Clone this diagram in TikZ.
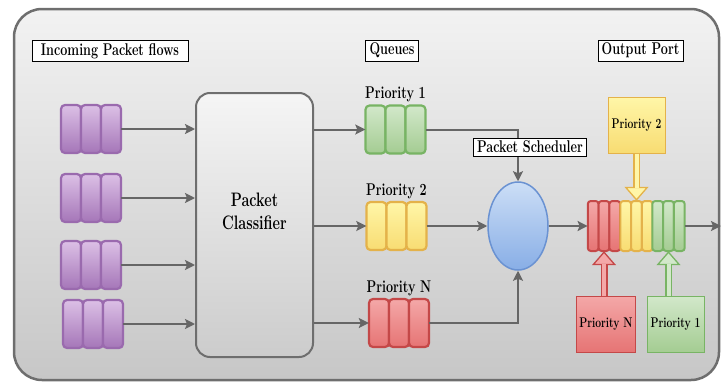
\documentclass[tikz,border=0pt]{standalone}
\usepackage{tikz}
\usetikzlibrary{positioning, shapes.geometric, arrows.meta, calc}

\definecolor{linegray}{HTML}{666666}
\definecolor{framegray}{HTML}{6E6E6E}
\definecolor{purpletop}{HTML}{DCC0E6}
\definecolor{purplebot}{HTML}{A576B8}
\definecolor{purpleln}{HTML}{9A6AAE}
\definecolor{greentop}{HTML}{D2E8CA}
\definecolor{greenbot}{HTML}{A4CC92}
\definecolor{greenln}{HTML}{78B464}
\definecolor{yellowtop}{HTML}{FFF6A8}
\definecolor{yellowbot}{HTML}{F8DC72}
\definecolor{yellowln}{HTML}{E4B24A}
\definecolor{redtop}{HTML}{F4A8A8}
\definecolor{redbot}{HTML}{E67474}
\definecolor{redln}{HTML}{C44848}
\definecolor{bluetop}{HTML}{CCDEF6}
\definecolor{bluebot}{HTML}{88AEE6}
\definecolor{blueln}{HTML}{6A92D2}

% one queue of three packets, plus an empty node (#1) round it
\newcommand{\pktqueue}[4]{%
  \foreach \k in {-1,0,1}
    \node[cell=#4] at ({#2+20*\k},#3) {};
  \node[inner sep=0, minimum width=60, minimum height=48] (#1) at (#2,#3) {};
}
% one group of three narrow slots in the output port
\newcommand{\outgroup}[3]{%
  \foreach \k in {-1,0,1}
    \node[slot=#3] at ({#2+10.8*\k},226) {};
  \node[inner sep=0, minimum width=32.4, minimum height=50] (#1) at (#2,226) {};
}

\begin{document}
\begin{tikzpicture}[x=1pt, y=-1pt,
    title/.style={draw, fill=white, line width=0.8pt, inner xsep=5pt, inner ysep=3pt,
                  font=\bfseries\fontsize{17}{19}\selectfont, xscale=0.74},
    qlabel/.style={inner sep=1pt, font=\bfseries\fontsize{17}{19}\selectfont, xscale=0.74},
    cell/.style={rounded corners=4pt, line width=2.2pt, minimum width=20, minimum height=48,
                 top color=#1top, bottom color=#1bot, draw=#1ln},
    slot/.style={rounded corners=3pt, line width=2pt, minimum width=10.8, minimum height=50,
                 inner sep=0, top color=#1top, bottom color=#1bot, draw=#1ln},
    prio/.style={draw=#1ln, line width=1pt, top color=#1top, bottom color=#1bot, xscale=0.74,
                 minimum width=77, minimum height=56, font=\bfseries\fontsize{14}{16}\selectfont},
    flow/.style={draw=linegray, line width=2pt, -{Stealth[length=10pt,width=10pt,inset=2pt]}},
    fat/.style={draw=#1ln, line width=7pt,
                -{Triangle[length=14pt,width=24pt,fill=#1top,line width=1.3pt]},
                postaction={draw=#1top, line width=4pt, -{}, shorten >=13pt}}]

    \useasboundingbox (0,0) rectangle (722,383);
    \path[draw=framegray, line width=2.5pt, rounded corners=28pt,
          top color=black!5, bottom color=black!22] (14,9) rectangle (719,380);

    \node[title, minimum width=211] (tin) at (110,51) {Incoming Packet flows};
    \node[title] (tq)   at (392,50.5) {Queues};
    \node[title] (tout) at (640.5,50.5) {Output Port};

    \pktqueue{q1}{91}{129}{purple}
    \pktqueue{q2}{91}{198}{purple}
    \pktqueue{q3}{91}{265}{purple}
    \pktqueue{q4}{93}{324}{purple}

    \node[draw=framegray, line width=2pt, rounded corners=14pt, top color=black!4,
          bottom color=black!20, minimum width=117, minimum height=264,
          label={[font=\bfseries\fontsize{19.5}{23}\selectfont, xscale=0.74, align=center, yshift=14pt]center:Packet\\Classifier}]
          (clf) at (254.5,225) {};

    \pktqueue{pq1}{395.5}{129.5}{green}
    \pktqueue{pq2}{396.5}{226}{yellow}
    \pktqueue{pqn}{399}{323}{red}
    \node[qlabel, above=2pt of pq1] {Priority 1};
    \node[qlabel, above=2pt of pq2] {Priority 2};
    \node[qlabel, above=2pt of pqn] {Priority N};

    \node[ellipse, draw=blueln, line width=1.5pt, top color=bluetop, bottom color=bluebot,
          minimum width=60, minimum height=88, inner sep=0] (sched) at (518,226) {};

    \outgroup{outr}{604}{red}
    \outgroup{outy}{636.5}{yellow}
    \outgroup{outg}{668.5}{green}
    \coordinate (portout) at (721,226);

    \draw[flow] (q1) -- (q1 -| clf.west);
    \draw[flow] (q2) -- (q2 -| clf.west);
    \draw[flow] (q3) -- (q3 -| clf.west);
    \draw[flow] (q4) -- (q4 -| clf.west);
    \draw[flow] (clf.east |- pq1) -- (pq1.west);
    \draw[flow] (clf.east |- pq2) -- (pq2.west);
    \draw[flow] (clf.east |- pqn) -- (pqn.west);
    \draw[flow] (pq1.east) -| (sched.north);
    \draw[flow] (pq2.east) -- (sched.west);
    \draw[flow] (pqn.east) -| (sched.south);
    \draw[flow] (sched.east) -- (outr.west);
    \draw[flow] (outg.east) -- (portout);

    \node[title] (tsched) at (530,147) {Packet Scheduler};

    \node[prio=yellow] (p2box) at (636.5,125) {Priority 2};
    \node[prio=red, minimum width=81] (pnbox) at (606,324) {Priority N};
    \node[prio=green] (p1box) at (675.5,324) {Priority 1};

    \draw[fat=yellow] (p2box.south -| outy) -- (outy.north);
    \draw[fat=red] (pnbox.north -| outr) -- (outr.south);
    \draw[fat=green] (p1box.north -| outg) -- (outg.south);
\end{tikzpicture}
\end{document}
